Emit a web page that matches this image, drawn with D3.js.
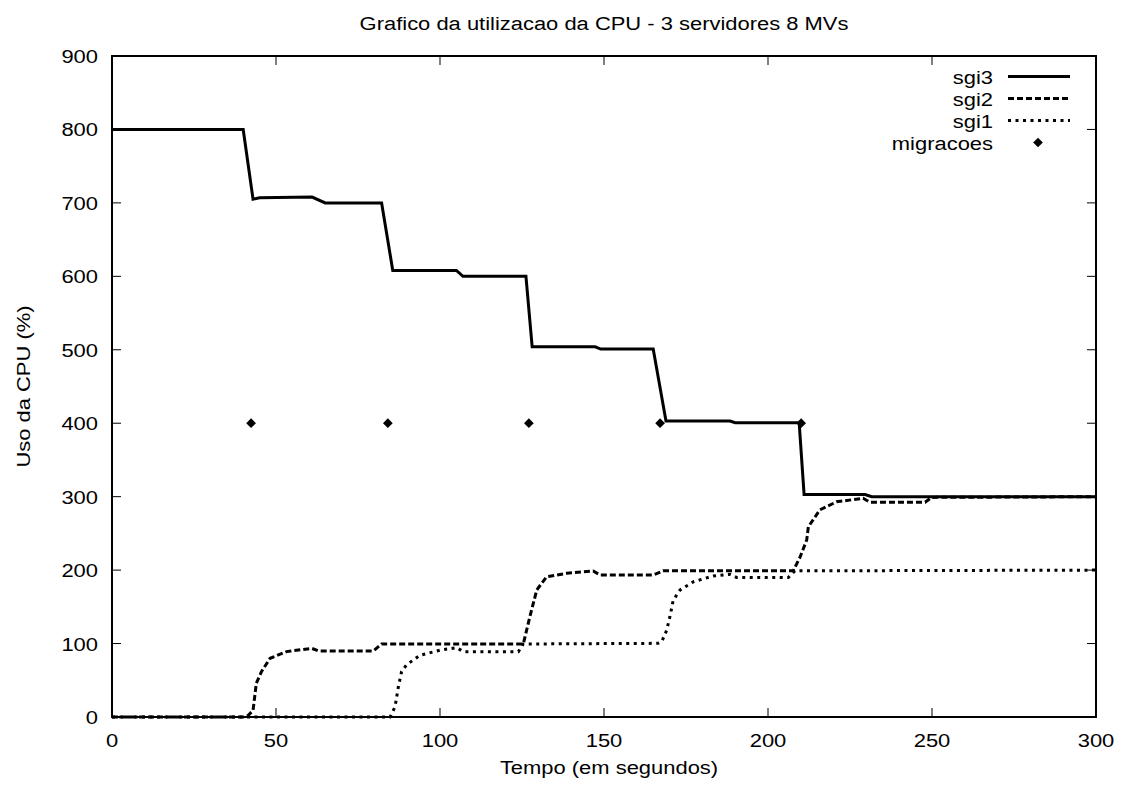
<!DOCTYPE html>
<html><head><meta charset="utf-8">
<script src="https://cdn.jsdelivr.net/npm/d3@7"></script>
<style>body{margin:0;background:#fff}svg{display:block}text{font-family:"Liberation Sans",Arial,sans-serif;fill:#000}</style>
</head><body><svg id="c" width="1125" height="787"></svg>
<script>
const title = "Grafico da utilizacao da CPU - 3 servidores 8 MVs";
const xLabel = "Tempo (em segundos)";
const yLabel = "Uso da CPU (%)";
const xTicks = [0,50,100,150,200,250,300];
const yTicks = [0,100,200,300,400,500,600,700,800,900];
const seriesNames = ["sgi3","sgi2","sgi1","migracoes"];

const sgi3T = [0,40,43,45,61,65,82.2,85.6,105,107,126.2,128.1,147.3,149,165,168.9,188.4,190,209.5,211,229.6,231.6,300];
const sgi3V = [800,800,705,707,708,700,700,608,608,600,600,504,504,501,501,403,403,400.7,400.7,303,303,300,300];

const sgi2T = [0,40,41.5,43,44,45.6,48.2,53.2,60.9,62.9,79.7,82.2,125.4,127.4,129.5,132.5,138.6,146.7,148.8,165,168,207.7,209.8,211.8,212.3,215.8,220.9,229,231.1,247.9,249.9,300];
const sgi2V = [0,0,2,9,46,62,80,89,93.5,90,90,99.4,99.4,136.6,173,191,195.6,198.8,193.4,193.4,199,199,218,241,259,282,293,297.8,292.3,292.3,299,300];

const sgi1T = [0,84.8,86.3,87.3,88.3,89.8,93.9,100,105.1,107.1,123.9,125.4,166.5,167.6,169.1,170.1,171.1,173.2,177.2,183.3,188.4,190.4,206.2,208.2,300];
const sgi1V = [0,0,14,41,62,71,84,91,94.4,89,89,99.4,100.3,102.5,118,136.6,159,173,184,192,194.3,190,190,199,200];

const migT = [42.4,84.1,127.1,167.1,210.1];
const migV = [400,400,400,400,400];

const svg = d3.select("#c");
const L=112, R=1096, T=56, B=717;
const x = d3.scaleLinear().domain([0,300]).range([L,R]);
const y = d3.scaleLinear().domain([0,900]).range([B,T]);
const FS = 18.6, SX = 1.18;
function txt(px,py,s,anchor,rot){
  return svg.append("text")
    .attr("transform",`translate(${px},${py})`+(rot?` rotate(${rot})`:"")+` scale(${SX},1)`)
    .attr("text-anchor",anchor).attr("font-size",FS).text(s);
}

// ticks (inward, mirrored)
const tl = 9;
const g = svg.append("g").attr("stroke","#000").attr("stroke-width",1);
xTicks.forEach(t=>{
  g.append("line").attr("x1",x(t)).attr("x2",x(t)).attr("y1",B).attr("y2",B-tl);
  g.append("line").attr("x1",x(t)).attr("x2",x(t)).attr("y1",T).attr("y2",T+tl);
});
yTicks.forEach(t=>{
  g.append("line").attr("x1",L).attr("x2",L+tl).attr("y1",y(t)).attr("y2",y(t));
  g.append("line").attr("x1",R).attr("x2",R-tl).attr("y1",y(t)).attr("y2",y(t));
});
xTicks.forEach(t=>txt(x(t),B+30,t,"middle"));
yTicks.forEach(t=>txt(L-14,y(t)+7,t,"end"));

txt(604,29.5,title,"middle");
txt(609,774,xLabel,"middle");
txt(30,(T+B)/2,yLabel,"middle",-90);

const line = d3.line().x(d=>x(d[0])).y(d=>y(d[1]));
const mk = (T_,V_)=>T_.map((t,i)=>[t,V_[i]]);
const styles = [
  {d:mk(sgi1T,sgi1V), dash:"3,4.5"},
  {d:mk(sgi2T,sgi2V), dash:"6,3"},
  {d:mk(sgi3T,sgi3V), dash:null},
];
styles.forEach(s=>{
  const p = svg.append("path").attr("d",line(s.d)).attr("fill","none").attr("stroke","#000").attr("stroke-width",3).attr("stroke-linejoin","miter");
  if(s.dash) p.attr("stroke-dasharray",s.dash);
});
const diamond = d3.symbol().type(d3.symbolDiamond2).size(60);
migT.forEach((t,i)=>svg.append("path").attr("d",diamond()).attr("transform",`translate(${x(t)},${y(migV[i])})`).attr("fill","#000"));

// legend
const legY = [76.5,98.5,120.5,142.5];
const legDash = [null,"6,3","3,4.5"];
seriesNames.forEach((n,i)=>{
  txt(993,legY[i]+7,n,"end");
  if(i<3){
    const p=svg.append("line").attr("x1",1008).attr("x2",1070).attr("y1",legY[i]).attr("y2",legY[i]).attr("stroke","#000").attr("stroke-width",3);
    if(legDash[i]) p.attr("stroke-dasharray",legDash[i]);
  } else {
    svg.append("path").attr("d",diamond()).attr("transform",`translate(1038,${legY[i]})`).attr("fill","#000");
  }
});

svg.append("rect").attr("x",L).attr("y",T).attr("width",R-L).attr("height",B-T).attr("fill","none").attr("stroke","#000").attr("stroke-width",2);
</script></body></html>
